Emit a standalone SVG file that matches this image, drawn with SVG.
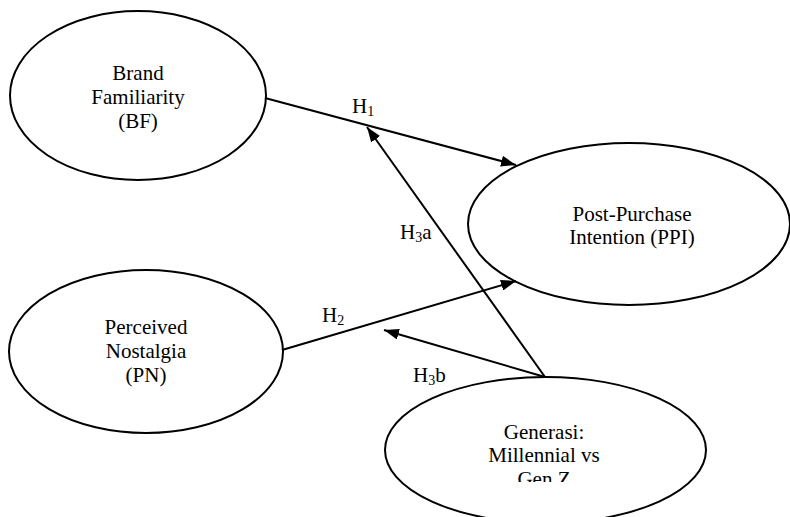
<svg xmlns="http://www.w3.org/2000/svg" width="790" height="517" viewBox="0 0 790 517">
  <style>
    .node { fill: #ffffff; stroke: #000000; stroke-width: 2; }
    .lbl { font-family: "Liberation Serif", "Times New Roman", serif; font-size: 21px; fill: #000000; text-anchor: middle; }
    .hyp { font-family: "Liberation Serif", "Times New Roman", serif; font-size: 21px; fill: #000000; }
    .sub { font-size: 14px; }
    .edge { stroke: #000000; stroke-width: 2; fill: none; marker-end: url(#arrow); }
  </style>
  <defs>
    <marker id="arrow" markerUnits="userSpaceOnUse" markerWidth="15" markerHeight="11" refX="15" refY="5.5" orient="auto">
      <path d="M0,0 L15,5.5 L0,11 z" fill="#000000"/>
    </marker>
    <clipPath id="genClip">
      <rect x="380" y="400" width="330" height="82"/>
    </clipPath>
  </defs>
  <rect width="790" height="517" fill="#ffffff"/>

  <g id="node-bf">
    <ellipse class="node" cx="138" cy="95.5" rx="128" ry="84.5"/>
    <text class="lbl" x="138" y="80">Brand</text>
    <text class="lbl" x="138" y="104">Familiarity</text>
    <text class="lbl" x="138" y="128">(BF)</text>
  </g>

  <g id="node-pn">
    <ellipse class="node" cx="146" cy="351.5" rx="137" ry="81.5"/>
    <text class="lbl" x="146" y="334">Perceived</text>
    <text class="lbl" x="146" y="358">Nostalgia</text>
    <text class="lbl" x="146" y="382">(PN)</text>
  </g>

  <g id="node-ppi">
    <ellipse class="node" cx="629" cy="224" rx="161" ry="81"/>
    <text class="lbl" x="632" y="221">Post-Purchase</text>
    <text class="lbl" x="632" y="244">Intention (PPI)</text>
  </g>

  <g id="node-gen">
    <ellipse class="node" cx="545.5" cy="450" rx="160.5" ry="73"/>
    <g clip-path="url(#genClip)">
      <text class="lbl" x="544" y="439">Generasi:</text>
      <text class="lbl" x="544" y="462">Millennial vs</text>
      <text class="lbl" x="544" y="486">Gen Z</text>
    </g>
  </g>

  <g id="connectors">
    <line class="edge" x1="265" y1="98" x2="516" y2="165"/>
    <line class="edge" x1="282" y1="350" x2="516" y2="281"/>
    <line class="edge" x1="545" y1="377" x2="367" y2="127"/>
    <line class="edge" x1="545" y1="377" x2="384" y2="330"/>
  </g>

  <g id="labels">
    <text class="hyp" x="352" y="113">H<tspan class="sub" dy="3">1</tspan></text>
    <text class="hyp" x="322" y="322">H<tspan class="sub" dy="3">2</tspan></text>
    <text class="hyp" x="400" y="239">H<tspan class="sub" dy="3">3</tspan><tspan dy="-3">a</tspan></text>
    <text class="hyp" x="413" y="382">H<tspan class="sub" dy="3">3</tspan><tspan dy="-3">b</tspan></text>
  </g>
</svg>
